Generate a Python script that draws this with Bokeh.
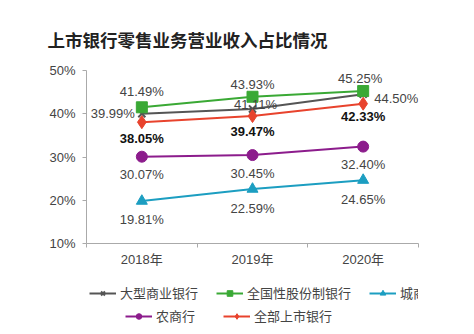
from bokeh.plotting import figure
from bokeh.layouts import column
from bokeh.models import Range1d, FixedTicker, PrintfTickFormatter, Legend, LegendItem, ColumnDataSource
from bokeh.core.properties import value
from bokeh.embed import file_html
from bokeh.resources import INLINE

years = ["2018年", "2019年", "2020年"]
big_banks = [39.99, 41.11, 44.50]
joint_stock = [41.49, 43.93, 45.25]
city_banks = [19.81, 22.59, 24.65]
rural_banks = [30.07, 30.45, 32.40]
all_listed = [38.05, 39.47, 42.33]
series_names = ["大型商业银行", "全国性股份制银行", "城商行", "农商行", "全部上市银行"]
y_ticks = [10, 20, 30, 40, 50]

FONT = "Liberation Sans, Noto Sans CJK SC"
CJK = "Noto Sans CJK SC"

xs = [i + 0.5 for i in range(len(years))]

p = figure(width=474, height=270, output_backend="svg", toolbar_location=None,
           x_range=Range1d(0, len(years)), y_range=Range1d(10, 50),
           min_border_left=86, min_border_right=56, min_border_top=70, min_border_bottom=27)
p.outline_line_color = None
p.grid.visible = False
p.background_fill_color = "white"

p.title.text = "上市银行零售业务营业收入占比情况"
p.title.text_font = CJK
p.title.text_font_size = "17.5px"
p.title.text_font_style = "bold"
p.title.text_color = "#222222"
p.title.align = "left"
p.title.offset = -39
p.title.standoff = 38

# axes
p.yaxis.ticker = FixedTicker(ticks=y_ticks)
p.yaxis.formatter = PrintfTickFormatter(format="%d%%")
p.xaxis.ticker = FixedTicker(ticks=xs, minor_ticks=list(range(len(years) + 1)))
p.xaxis.major_label_overrides = {x: y for x, y in zip(xs, years)}
for ax in (p.xaxis, p.yaxis):
    ax.axis_line_color = "#aaaaaa"
    ax.major_tick_line_color = "#aaaaaa"
    ax.minor_tick_line_color = "#aaaaaa"
    ax.major_label_text_font = FONT
    ax.major_label_text_font_size = "13px"
    ax.major_label_text_color = "#444444"
p.yaxis.major_tick_out = 4
p.yaxis.major_tick_in = 0
p.yaxis.minor_tick_out = 0
p.yaxis.minor_tick_in = 0
p.yaxis.major_label_standoff = 7
p.xaxis.major_tick_out = 0
p.xaxis.major_tick_in = 0
p.xaxis.minor_tick_out = 4
p.xaxis.minor_tick_in = 0
p.xaxis.major_label_standoff = 4

styles = [
    (big_banks, "#555555", "x"),
    (joint_stock, "#3aa935", "square"),
    (city_banks, "#1c9ec1", "triangle"),
    (rural_banks, "#8c1c8c", "circle"),
    (all_listed, "#e8432d", "diamond"),
]

def draw_series(fig, vals, color, marker, size):
    r1 = fig.line(xs, vals, line_color=color, line_width=2)
    if marker == "x":
        r2 = fig.scatter(xs, vals, marker="x", size=size - 1, line_color=color, line_width=2)
    else:
        r2 = fig.scatter(xs, vals, marker=marker, size=size if marker != "diamond" else size + 2,
                         fill_color=color, line_color=color)
    return r1, r2

for vals, color, marker in styles:
    draw_series(p, vals, color, marker, 11)

def labels(vals, xoff, yoff, align, bold=False, color="#444444"):
    src = ColumnDataSource(dict(x=xs, y=vals, t=["%.2f%%" % v for v in vals],
                                xo=xoff, yo=yoff, al=align))
    p.text("x", "y", text="t", source=src, x_offset="xo", y_offset="yo",
           text_align="al", text_baseline="middle", text_font=value(FONT),
           text_font_size="13px", text_color=color,
           text_font_style="bold" if bold else "normal")

labels(big_banks, [-7, 3, 11], [0, -4, 4], ["right", "center", "left"])
labels(joint_stock, [0, 0, -3], [-16, -12, -13], ["center"] * 3)
labels(all_listed, [0, 0, 0], [16, 15.5, 13], ["center"] * 3, bold=True, color="#111111")
labels(rural_banks, [0, 0, 0], [18, 18, 18], ["center"] * 3)
labels(city_banks, [0, 0, 0], [18.5, 19, 19], ["center"] * 3)

# legend strip: same series drawn with a view range that keeps them out of sight
lf = figure(width=474, height=64, output_backend="svg", toolbar_location=None,
            x_range=Range1d(100, 101), y_range=Range1d(100, 101),
            x_axis_location=None, y_axis_location=None,
            min_border_left=0, min_border_right=0, min_border_top=0, min_border_bottom=0)
lf.grid.visible = False
lf.outline_line_color = None
items = []
for name, (vals, color, marker) in zip(series_names, styles):
    r1, r2 = draw_series(lf, vals, color, marker, 9)
    items.append(LegendItem(label=name, renderers=[r1, r2]))

def make_legend(its, loc, spacing):
    return Legend(items=its, orientation="horizontal", location=loc,
                  label_text_font=CJK, label_text_font_size="13px", label_text_color="#444444",
                  glyph_width=27, glyph_height=14, label_height=18, label_standoff=4,
                  spacing=spacing, padding=3, margin=0, border_line_alpha=0,
                  background_fill_alpha=0)

lf.add_layout(make_legend(items[:3], (0, 29), 18))
lf.add_layout(make_legend(items[3:], (36, 6), 28))

layout = column(p, lf, spacing=0)
open("out.html", "w").write(file_html(layout, INLINE))
